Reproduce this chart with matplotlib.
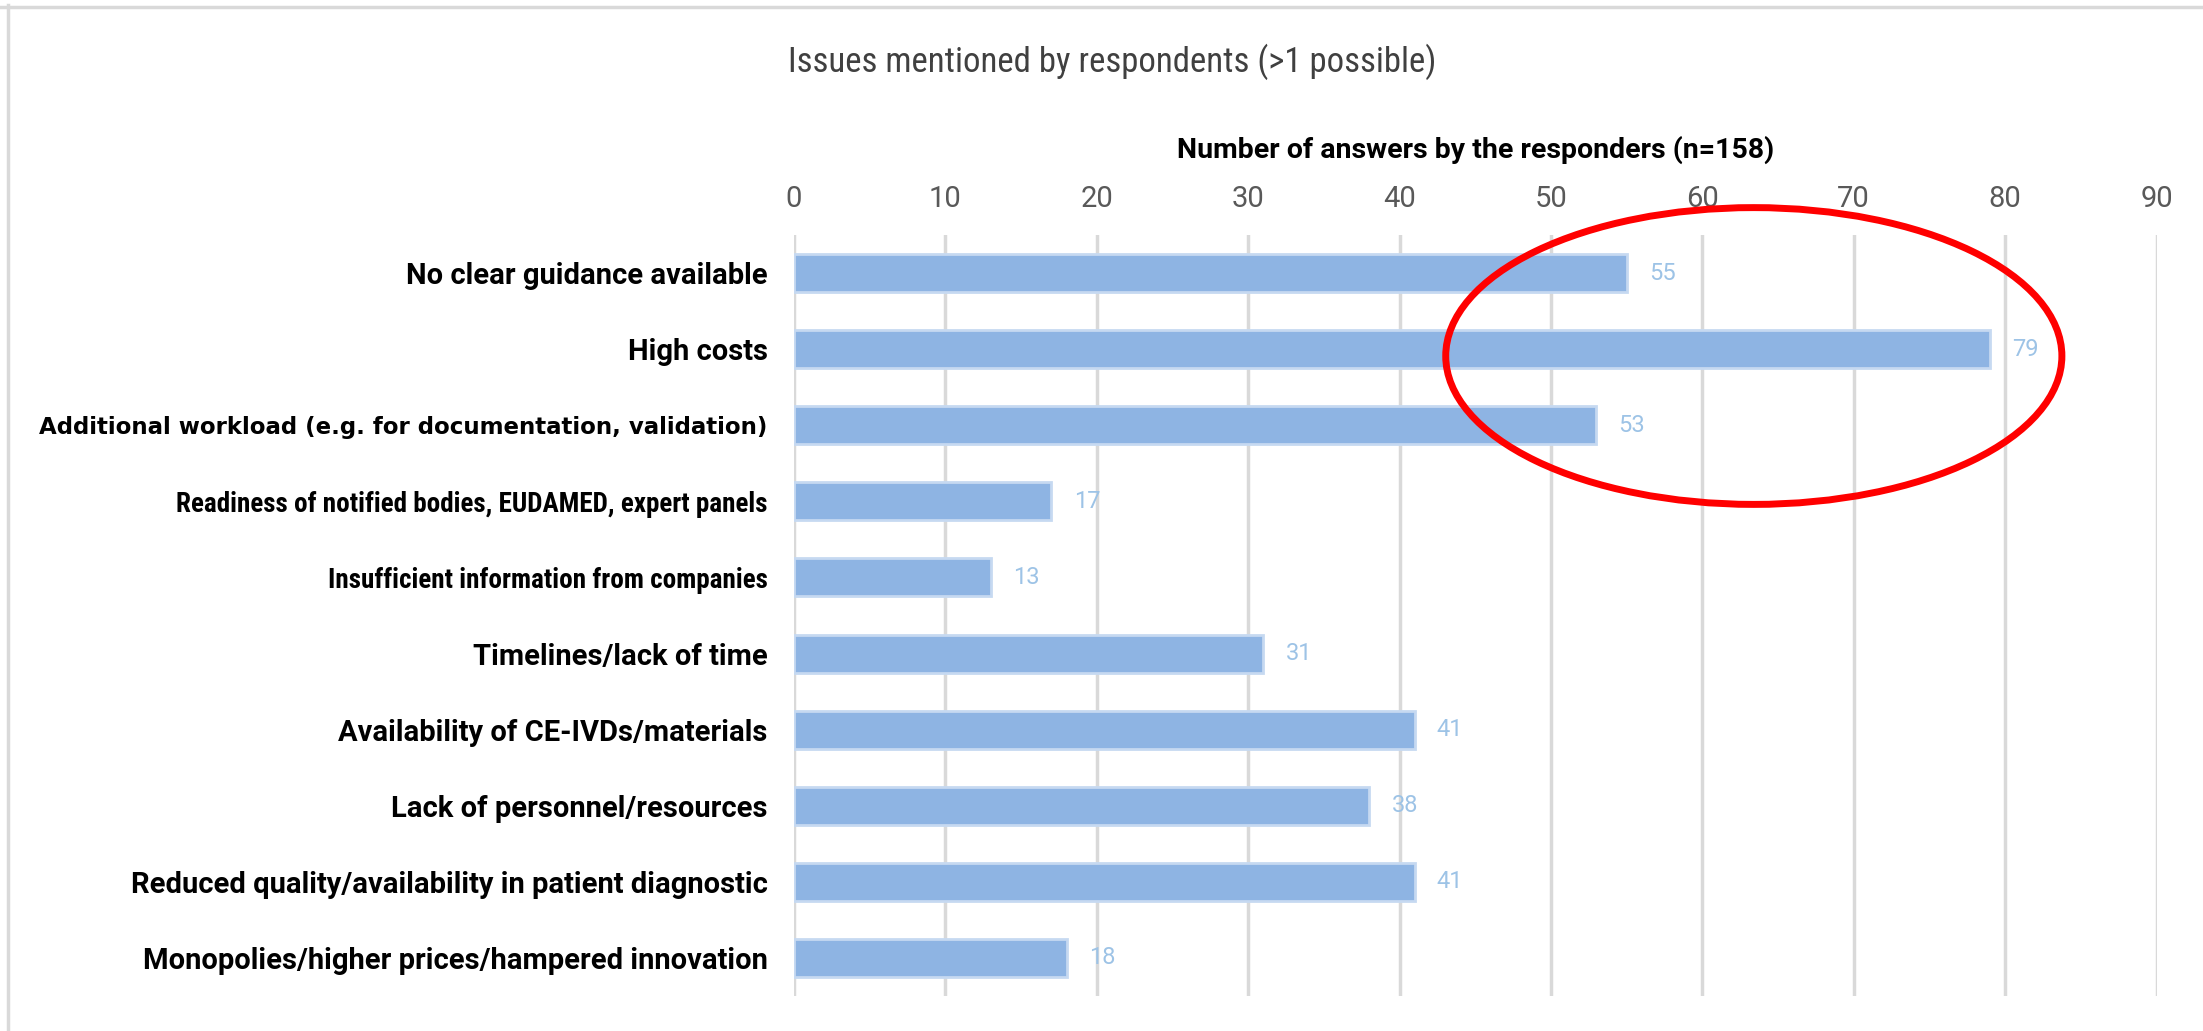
import matplotlib
matplotlib.use("Agg")
import matplotlib.pyplot as plt
from matplotlib import font_manager
from matplotlib.patches import Ellipse
from matplotlib.lines import Line2D

# data
categories = [
    "No clear guidance available",
    "High costs",
    "Additional workload (e.g. for documentation, validation)",
    "Readiness of notified bodies, EUDAMED, expert panels",
    "Insufficient information from companies",
    "Timelines/lack of time",
    "Availability of CE-IVDs/materials",
    "Lack of personnel/resources",
    "Reduced quality/availability in patient diagnostic",
    "Monopolies/higher prices/hampered innovation",
]
answers = [55, 79, 53, 17, 13, 31, 41, 38, 41, 18]
x_ticks = [0, 10, 20, 30, 40, 50, 60, 70, 80, 90]

title = "Issues mentioned by respondents (>1 possible)"
x_label = "Number of answers by the responders (n=158)"

# the screenshot mixes label widths, so some labels get the condensed face
names = {f.name for f in font_manager.fontManager.ttflist}
narrow = "Roboto Condensed" if "Roboto Condensed" in names else "DejaVu Sans"
wide = "Roboto" if "Roboto" in names else "DejaVu Sans"
plt.rcParams["font.family"] = [wide, "DejaVu Sans"]

bar_col = "#8EB4E3"
edge_col = "#C6D9F1"
grid_col = "#D9D9D9"

W, H = 2203, 1031
fig = plt.figure(figsize=(W / 100, H / 100), dpi=100)
ax = fig.add_axes([794 / W, 1 - 996 / H, (2156.5 - 794) / W, (996 - 235) / H])

ypos = list(range(len(categories)))
ax.barh(ypos, answers, height=0.5, color=bar_col, edgecolor=edge_col, linewidth=2, zorder=3)

ax.set_xlim(0, 90)
ax.set_ylim(len(categories) - 0.5, -0.5)
ax.set_xticks(x_ticks)
ax.xaxis.tick_top()
ax.tick_params(axis="x", length=0, pad=15.5, labelsize=21, labelcolor="#595959")
ax.set_yticks(ypos)
ax.set_yticklabels(categories, fontsize=21, fontweight="bold", color="black")
ax.tick_params(axis="y", length=0, pad=19)
labels = ax.get_yticklabels()
for i in (3, 4):
    labels[i].set_fontfamily([narrow, "DejaVu Sans"])
    labels[i].set_fontsize(19.5)
# odd one out, different font in the original
labels[2].set_fontfamily("DejaVu Sans")
labels[2].set_fontsize(16.5)

ax.grid(axis="x", color=grid_col, linewidth=2.5, zorder=0)
for s in ax.spines.values():
    s.set_visible(False)

ax.set_xlabel(x_label, fontsize=20.5, fontweight="bold", va="center")
ax.xaxis.set_label_coords(0.5, 1 + 85 / 761)

for y, v in zip(ypos, answers):
    ax.annotate(str(v), (v, y), xytext=(16, 0), textcoords="offset points",
                va="center", ha="left", fontsize=17, color="#9DC3E6")

# red ring around the top answers
ring = Ellipse((63.4, 1.09), 40.7, 3.9, fill=False, edgecolor="red", linewidth=5,
               clip_on=False, zorder=5)
ax.add_patch(ring)

fig.text(0.505, 1 - 62 / H, title, ha="center", va="center", fontsize=25, color="#404040",
         family=[narrow, "DejaVu Sans"])

# frame from the screenshot (top and left only)
fig.add_artist(Line2D([0, 1], [1 - 6.5 / H] * 2, color=grid_col, linewidth=2.5, transform=fig.transFigure))
fig.add_artist(Line2D([7.5 / W] * 2, [0, 1 - 5 / H], color=grid_col, linewidth=2.5, transform=fig.transFigure))

fig.savefig("out.png", dpi=100)
